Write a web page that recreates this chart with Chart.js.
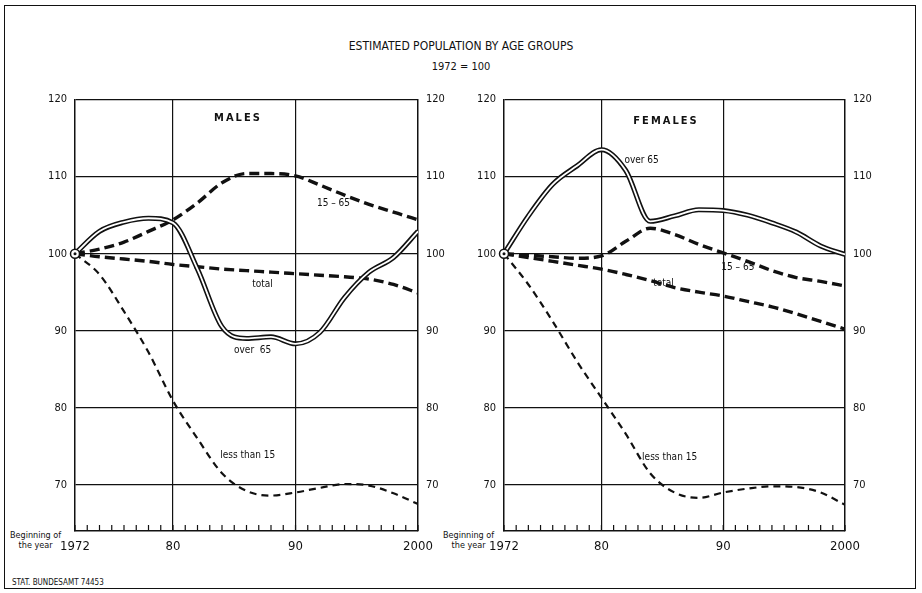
<!DOCTYPE html>
<html>
<head>
<meta charset="utf-8">
<script src="https://cdn.jsdelivr.net/npm/chart.js@4.4.1/dist/chart.umd.min.js"></script>
<style>
  body { margin: 0; background: #fff; font-family: "DejaVu Sans Condensed", "Liberation Sans Narrow", sans-serif; color: #111; }
  #page { position: relative; width: 922px; height: 593px; overflow: hidden; }
  #frame { position: absolute; left: 4px; top: 5px; width: 910px; height: 582px; border: 1.5px solid #111; }
  .txt { position: absolute; white-space: nowrap; }
  canvas { position: absolute; }
</style>
</head>
<body>
<div id="page">
  <div id="frame"></div>
  <div class="txt" style="left:0;width:922px;top:39px;text-align:center;font-size:12px;">ESTIMATED POPULATION BY AGE GROUPS</div>
  <div class="txt" style="left:0;width:922px;top:60px;text-align:center;font-size:11px;">1972 = 100</div>
  <div class="txt" style="left:10px;top:530px;font-size:9px;line-height:10px;text-align:center;">Beginning of<br>the year</div>
  <div class="txt" style="left:443px;top:530px;font-size:9px;line-height:10px;text-align:center;">Beginning of<br>the year</div>
  <div class="txt" style="left:12px;top:578px;font-size:8px;">STAT. BUNDESAMT 74453</div>
  <canvas id="males" width="460" height="480" style="left:0;top:85px;"></canvas>
  <canvas id="females" width="460" height="480" style="left:440px;top:85px;"></canvas>
</div>
<script>
// Beginning of the year
const years = [1972, 1974, 1976, 1978, 1980, 1982, 1984, 1986, 1988, 1990, 1992, 1994, 1996, 1998, 2000];
const yTicks = [70, 80, 90, 100, 110, 120];

// Males, 1972 = 100
const malesOver65   = [100, 102.9, 104.1, 104.6, 104.0, 98.0, 90.5, 89.0, 89.2, 88.3, 89.8, 94.3, 97.6, 99.5, 102.9];
const males15to65   = [100, 100.6, 101.5, 102.9, 104.4, 106.6, 109.2, 110.4, 110.4, 110.1, 108.9, 107.6, 106.4, 105.4, 104.4];
const malesTotal    = [100, 99.6, 99.3, 99.0, 98.6, 98.3, 98.0, 97.8, 97.6, 97.4, 97.2, 97.0, 96.7, 96.0, 94.9];
const malesUnder15  = [100, 97.3, 92.5, 87.2, 80.9, 76.0, 71.5, 69.2, 68.6, 69.0, 69.6, 70.1, 69.9, 68.9, 67.5];

// Females, 1972 = 100
const femalesOver65  = [100, 104.9, 109.0, 111.4, 113.5, 110.8, 104.2, 104.9, 105.7, 105.6, 105.0, 104.0, 102.8, 101.0, 99.9];
const females15to65  = [100, 99.8, 99.6, 99.4, 99.7, 101.6, 103.3, 102.5, 101.2, 100.1, 99.0, 97.8, 96.9, 96.4, 95.8];
const femalesTotal   = [100, 99.5, 99.0, 98.5, 98.0, 97.3, 96.5, 95.6, 95.0, 94.5, 93.8, 93.1, 92.2, 91.2, 90.2];
const femalesUnder15 = [100, 96.0, 91.2, 86.0, 81.3, 76.6, 71.5, 69.0, 68.3, 69.0, 69.5, 69.8, 69.7, 69.0, 67.4];

// text written inside the plots: [text, year, value, bold]
const malesNotes = [['MALES', 1985.3, 117.6, true], ['15 – 65', 1993.1, 106.5], ['total', 1987.3, 96.0], ['over  65', 1986.5, 87.4], ['less than 15', 1986.1, 73.8]];
const femalesNotes = [['FEMALES', 1985.3, 117.2, true], ['over 65', 1983.3, 112.1], ['15 – 65', 1991.2, 98.2], ['total', 1985.1, 96.2], ['less than 15', 1985.6, 73.5]];

const FONT = '"DejaVu Sans Condensed", "Liberation Sans Narrow", sans-serif';

function pts(vals) {
    return vals.map((v, i) => ({ x: years[i], y: v }));
}

// small inward ticks every year, notes, and the start circle
const extras = {
    id: 'extras',
    afterDatasetsDraw(chart, args, opts) {
        const ctx = chart.ctx;
        const x = chart.scales.x, y = chart.scales.y;
        const bottom = chart.chartArea.bottom;
        ctx.save();
        ctx.strokeStyle = '#111';
        ctx.lineWidth = 1.2;
        for (let yr = years[0]; yr <= years[years.length - 1]; yr++) {
            const px = x.getPixelForValue(yr);
            ctx.beginPath();
            ctx.moveTo(px, bottom);
            ctx.lineTo(px, bottom - 6);
            ctx.stroke();
        }
        ctx.fillStyle = '#111';
        ctx.textAlign = 'center';
        ctx.textBaseline = 'middle';
        opts.notes.forEach(n => {
            const bold = n[3];
            ctx.font = (bold ? 'bold 11px ' : '10px ') + FONT;
            ctx.letterSpacing = bold ? '2px' : '0px';
            ctx.fillText(n[0], x.getPixelForValue(n[1]), y.getPixelForValue(n[2]));
        });
        ctx.letterSpacing = '0px';
        const cx = x.getPixelForValue(years[0]), cy = y.getPixelForValue(opts.start);
        ctx.fillStyle = '#fff';
        ctx.lineWidth = 1.5;
        ctx.beginPath();
        ctx.arc(cx, cy, 4.5, 0, Math.PI * 2);
        ctx.fill();
        ctx.stroke();
        ctx.fillStyle = '#111';
        ctx.beginPath();
        ctx.arc(cx, cy, 1.5, 0, Math.PI * 2);
        ctx.fill();
        ctx.restore();
    }
};

function makeChart(id, over65, mid, total, under15, notes, leftW, rightW) {
    const line = { tension: 0.4, cubicInterpolationMode: 'monotone', pointRadius: 0, fill: false };
    const yScale = (pos, width) => ({
        type: 'linear', position: pos, min: 64, max: 120,
        afterBuildTicks: s => { s.ticks = yTicks.map(v => ({ value: v })); },
        afterFit: s => { s.width = width; },
        grid: { color: '#111', lineWidth: 1.2, drawTicks: false, drawOnChartArea: pos === 'left' },
        border: { color: '#111', width: 1.5 },
        ticks: { color: '#111', padding: 8, font: { family: FONT, size: 11 } }
    });
    // lower order is drawn on top
    return new Chart(document.getElementById(id), {
        type: 'line',
        data: {
            datasets: [
                { ...line, order: 4, data: pts(under15), borderColor: '#111', borderWidth: 2.2, borderDash: [7, 5] },
                { ...line, order: 3, data: pts(total), borderColor: '#111', borderWidth: 3.4, borderDash: [10, 5] },
                { ...line, order: 2, data: pts(mid), borderColor: '#111', borderWidth: 3.4, borderDash: [10, 5] },
                { ...line, order: 1, data: pts(over65), borderColor: '#111', borderWidth: 5 },
                { ...line, order: 0, data: pts(over65), borderColor: '#fff', borderWidth: 1.8 }
            ]
        },
        options: {
            responsive: false,
            animation: false,
            devicePixelRatio: 1,
            layout: { padding: { top: 12, left: 0, right: 0, bottom: 0 } },
            plugins: { legend: { display: false }, tooltip: { enabled: false }, extras: { notes: notes, start: over65[0] } },
            scales: {
                x: {
                    type: 'linear', min: 1972, max: 2000,
                    afterFit: s => { s.height = 34; },
                    grid: {
                        color: c => (c.tick && (c.tick.value === 1980 || c.tick.value === 1990)) ? '#111' : 'rgba(0,0,0,0)',
                        lineWidth: 1.2, drawTicks: false
                    },
                    border: { color: '#111', width: 1.5 },
                    ticks: {
                        stepSize: 1, autoSkip: false, maxRotation: 0, padding: 8, color: '#111',
                        font: { family: FONT, size: 13 },
                        callback: v => v === 1972 ? '1972' : v === 1980 ? '80' : v === 1990 ? '90' : v === 2000 ? '2000' : ''
                    }
                },
                y: yScale('left', leftW),
                y2: yScale('right', rightW)
            }
        },
        plugins: [extras]
    });
}

makeChart('males', malesOver65, males15to65, malesTotal, malesUnder15, malesNotes, 75, 42);
makeChart('females', femalesOver65, females15to65, femalesTotal, femalesUnder15, femalesNotes, 64, 55);
</script>
</body>
</html>
